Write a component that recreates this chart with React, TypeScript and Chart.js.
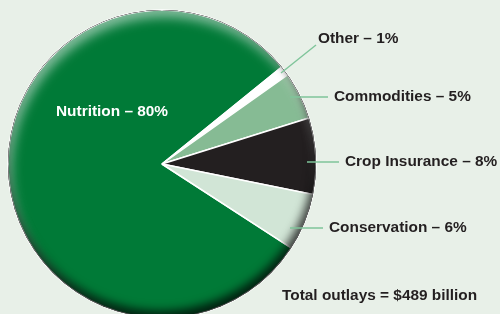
import React, { useEffect, useRef } from "react";
import { Chart, registerables } from "chart.js";

Chart.register(...registerables);

const categories = ["Nutrition", "Other", "Commodities", "Crop Insurance", "Conservation"];
const shares = [80, 1, 5, 8, 6];
const totalLabel = "Total outlays = $489 billion";

const sliceColors = ["#007a37", "#ffffff", "#86bb94", "#231f20", "#d1e5d6"];
const BG = "#e8f0e8";
const TEXT = "#231f20";
const LEADER = "#7fc49a";
const FONT = 'bold 15.4px "Liberation Sans", Arial, sans-serif';

// label layout (annotation positions, not data)
const labelLayout = [
  { x: 56, y: 112, color: "#ffffff", line: null },
  { x: 318, y: 39, color: TEXT, line: [316, 45, 281, 73] },
  { x: 334, y: 97, color: TEXT, line: [328, 97, 290, 97] },
  { x: 345, y: 162, color: TEXT, line: [339, 162, 307, 162] },
  { x: 329, y: 228, color: TEXT, line: [323, 228, 290, 228] },
];
const totalPos = { x: 282, y: 296 };

const shadePlugin = {
  id: "shade",
  afterDatasetsDraw(chart: any) {
    const meta = chart.getDatasetMeta(0);
    const arc = meta.data[0];
    if (!arc) return;
    const { x: cx, y: cy, outerRadius: r } = arc.getProps(["x", "y", "outerRadius"], true);
    const ctx = chart.ctx;
    const inner = (color: string, ox: number, oy: number, blur: number) => {
      ctx.save();
      ctx.beginPath();
      ctx.rect(cx - r - 200, cy - r - 200, 2 * r + 400, 2 * r + 400);
      ctx.arc(cx, cy, r, 0, Math.PI * 2, true);
      ctx.shadowColor = color;
      ctx.shadowBlur = blur;
      ctx.shadowOffsetX = ox;
      ctx.shadowOffsetY = oy;
      ctx.fillStyle = "#000";
      ctx.fill();
      ctx.restore();
    };
    ctx.save();
    ctx.beginPath();
    ctx.arc(cx, cy, r, 0, Math.PI * 2);
    ctx.clip();
    inner("rgba(255,255,255,0.55)", 3, 7, 12);
    inner("rgba(0,0,0,0.75)", -2, -7, 10);
    ctx.restore();
  },
};

const labelPlugin = {
  id: "labels",
  afterDraw(chart: any) {
    const ctx = chart.ctx;
    ctx.save();
    ctx.font = FONT;
    ctx.textBaseline = "middle";
    ctx.textAlign = "left";
    categories.forEach((cat, i) => {
      const l = labelLayout[i];
      if (l.line) {
        ctx.strokeStyle = LEADER;
        ctx.lineWidth = 1.5;
        ctx.beginPath();
        ctx.moveTo(l.line[0], l.line[1]);
        ctx.lineTo(l.line[2], l.line[3]);
        ctx.stroke();
      }
      ctx.fillStyle = l.color;
      ctx.fillText(`${cat} \u2013 ${shares[i]}%`, l.x, l.y);
    });
    ctx.fillStyle = TEXT;
    ctx.fillText(totalLabel, totalPos.x, totalPos.y);
    ctx.restore();
  },
};

export default function App() {
  const ref = useRef<HTMLCanvasElement | null>(null);
  useEffect(() => {
    document.body.style.margin = "0";
    const canvas = ref.current!;
    const chart = new Chart(canvas, {
      type: "pie",
      data: {
        labels: categories,
        datasets: [
          {
            data: shares,
            backgroundColor: sliceColors,
            borderColor: "#ffffff",
            borderWidth: 1.5,
          },
        ],
      },
      options: {
        responsive: false,
        animation: false,
        rotation: 123,
        radius: 154,
        layout: { padding: { left: 8, right: 184, top: 10, bottom: 0 } },
        plugins: {
          legend: { display: false },
          tooltip: { enabled: false },
        },
      },
      plugins: [shadePlugin, labelPlugin],
    });
    return () => chart.destroy();
  }, []);
  return (
    <div style={{ width: 500, height: 314, overflow: "hidden", background: BG, position: "relative" }}>
      <canvas ref={ref} width={500} height={318} style={{ display: "block" }} />
    </div>
  );
}
